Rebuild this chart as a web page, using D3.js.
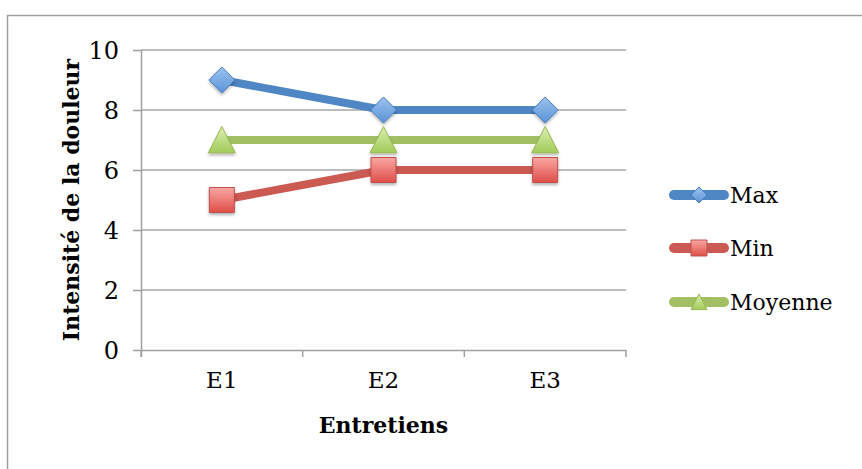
<!DOCTYPE html>
<html>
<head>
<meta charset="utf-8">
<script src="https://cdn.jsdelivr.net/npm/d3@7"></script>
<style>
  html, body { margin: 0; padding: 0; background: #fff; }
  svg { display: block; }
  text { font-family: "DejaVu Serif", "Liberation Serif", serif; fill: #000; }
</style>
</head>
<body>
<svg id="chart" width="862" height="469"></svg>
<script>
// Pain intensity per interview
const categories = ["E1", "E2", "E3"];
const maxValues = [9, 8, 8];
const minValues = [5, 6, 6];
const meanValues = [7, 7, 7];
const seriesNames = ["Max", "Min", "Moyenne"];
const yTicks = [0, 2, 4, 6, 8, 10];

const series = [
  { name: seriesNames[0], values: maxValues, color: "#4f86c4", stroke: "#4a7ebb", top: "#9cc3f0", bottom: "#5b93d6", shape: "diamond" },
  { name: seriesNames[1], values: minValues, color: "#cb5a53", stroke: "#c0504d", top: "#f9a7a3", bottom: "#df4f48", shape: "square" },
  { name: seriesNames[2], values: meanValues, color: "#a3bf64", stroke: "#98b954", top: "#dcefb2", bottom: "#a2ca5a", shape: "triangle" }
];

const svg = d3.select("#chart");
const plot = { left: 141, right: 626, top: 50, bottom: 350 };

const x = d3.scaleBand().domain(categories).range([plot.left, plot.right]);
const y = d3.scaleLinear().domain([0, 10]).range([plot.bottom, plot.top]);
const cx = d => x(d) + x.bandwidth() / 2;

const defs = svg.append("defs");
series.forEach((s, i) => {
  const g = defs.append("linearGradient").attr("id", "grad" + i)
    .attr("x1", 0).attr("y1", 0).attr("x2", 0).attr("y2", 1);
  g.append("stop").attr("offset", "0%").attr("stop-color", s.top);
  g.append("stop").attr("offset", "100%").attr("stop-color", s.bottom);
});
const shadow = defs.append("filter").attr("id", "shadow")
  .attr("x", "-50%").attr("y", "-50%").attr("width", "200%").attr("height", "200%");
shadow.append("feDropShadow").attr("dx", 0).attr("dy", 2).attr("stdDeviation", 1.5)
  .attr("flood-color", "#000").attr("flood-opacity", 0.3);

// chart frame
svg.append("rect")
  .attr("x", 7.5).attr("y", 15.5).attr("width", 900).attr("height", 500)
  .attr("fill", "none").attr("stroke", "#a0a0a0").attr("stroke-width", 1.5);

// horizontal gridlines
svg.append("g").selectAll("line").data(yTicks.filter(t => t > 0)).join("line")
  .attr("x1", plot.left).attr("x2", plot.right)
  .attr("y1", d => y(d)).attr("y2", d => y(d))
  .attr("stroke", "#a6a6a6").attr("stroke-width", 1.5);

// y axis
const yAxis = svg.append("g").attr("transform", `translate(${plot.left},0)`)
  .call(d3.axisLeft(y).tickValues(yTicks).tickSize(8).tickPadding(14).tickFormat(d3.format("d")));
yAxis.select(".domain").attr("stroke", "#a0a0a0").attr("stroke-width", 1.5)
  .attr("d", `M0.5,${plot.top}V${plot.bottom + 7}`);
yAxis.selectAll(".tick line").attr("stroke", "#a0a0a0").attr("stroke-width", 1.5);
yAxis.selectAll(".tick text").style("font-size", "24px")
  .style("font-family", "'DejaVu Serif', serif").attr("fill", "#000").attr("dy", "0.36em");

// x axis
const xAxis = svg.append("g").attr("transform", `translate(0,${plot.bottom})`)
  .call(d3.axisBottom(x).tickSize(0).tickPadding(22));
xAxis.select(".domain").attr("stroke", "#a0a0a0").attr("stroke-width", 1.5)
  .attr("d", `M${plot.left},0.5H${plot.right}`);
xAxis.selectAll(".tick text").style("font-size", "23px")
  .style("font-family", "'DejaVu Serif', serif").attr("fill", "#000");
const xBounds = categories.map(c => x(c)).concat([plot.right]);
xAxis.append("g").selectAll("line").data(xBounds).join("line")
  .attr("x1", d => d).attr("x2", d => d).attr("y1", 0).attr("y2", 7)
  .attr("stroke", "#a0a0a0").attr("stroke-width", 1.5);

// axis titles
svg.append("text")
  .attr("x", (plot.left + plot.right) / 2).attr("y", 433)
  .attr("text-anchor", "middle").style("font-size", "22px").style("font-weight", "bold")
  .text("Entretiens");
svg.append("text")
  .attr("transform", `translate(79,${(plot.top + plot.bottom) / 2}) rotate(-90)`)
  .attr("text-anchor", "middle").style("font-size", "22px").style("font-weight", "bold")
  .text("Intensité de la douleur");

function markerPath(shape, size) {
  const h = size / 2;
  if (shape === "diamond") return `M0,${-h}L${h},0L0,${h}L${-h},0Z`;
  if (shape === "square") return `M${-h},${-h}H${h}V${h}H${-h}Z`;
  return `M0,${-h}L${h},${h * 0.95}L${-h},${h * 0.95}Z`;
}
const markerSize = { diamond: 26, square: 25, triangle: 27 };

// lines
const line = d3.line().x((d, i) => cx(categories[i])).y(d => y(d));
series.forEach(s => {
  svg.append("path").datum(s.values)
    .attr("d", line).attr("fill", "none")
    .attr("stroke", s.color).attr("stroke-width", 8).attr("stroke-linejoin", "round");
});
// markers
series.forEach((s, i) => {
  svg.append("g").selectAll("path").data(s.values).join("path")
    .attr("transform", (d, j) => `translate(${cx(categories[j])},${y(d)})`)
    .attr("d", markerPath(s.shape, markerSize[s.shape]))
    .attr("fill", `url(#grad${i})`).attr("stroke", s.stroke).attr("stroke-width", 1)
    .attr("filter", "url(#shadow)");
});

// legend
const legend = svg.append("g");
const legendY = [195, 248, 302];
series.forEach((s, i) => {
  const g = legend.append("g").attr("transform", `translate(0,${legendY[i]})`);
  g.append("line").attr("x1", 674).attr("x2", 724).attr("y1", 0).attr("y2", 0)
    .attr("stroke", s.color).attr("stroke-width", 10).attr("stroke-linecap", "round");
  g.append("path").attr("transform", "translate(699,0)")
    .attr("d", markerPath(s.shape, 16))
    .attr("fill", `url(#grad${i})`).attr("stroke", s.stroke).attr("stroke-width", 1);
  g.append("text").attr("x", 730).attr("y", 0).attr("dy", "0.36em")
    .style("font-size", "22px").text(s.name);
});
</script>
</body>
</html>
